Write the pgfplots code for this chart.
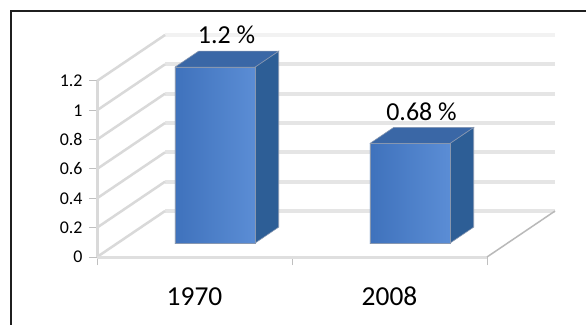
\documentclass[border=0pt]{standalone}
\usepackage{pgfplots}
\pgfplotsset{compat=1.18}
\usepackage{fontspec}
\setmainfont{Carlito}
\definecolor{barfrontL}{HTML}{5B8DD5}
\definecolor{barfrontD}{HTML}{3F72BC}
\definecolor{barside}{HTML}{2D5E96}
\definecolor{bartop}{HTML}{3A67A6}
\definecolor{baredge}{HTML}{8797B0}
\begin{document}
\begin{tikzpicture}[x=1bp,y=1bp]
\useasboundingbox (0,0) rectangle (586,324);
\fill[white] (0,0) rectangle (586,324);
\draw[line width=2.2bp, color=black!88] (11,-3) -- (11,313) -- (590,313);
\begin{axis}[
  at={(97bp,67bp)}, anchor=south west,
  x=195bp, y=146.7bp,
  xmin=-0.5, xmax=1.87, ymin=0, ymax=1.56,
  clip=false,
  axis line style={draw=none},
  tick pos=left,
  tick align=outside,
  major tick length=8bp,
  tick style={gray!50, line width=1bp},
  ytick={0,0.2,0.4,0.6,0.8,1,1.2},
  yticklabel style={font=\fontsize{18}{20}\selectfont, xshift=-3bp},
  xtick={-0.5,0.5,1.5},
  xticklabels={},
  extra x ticks={0,1},
  extra x tick labels={1970,2008},
  extra x tick style={major tick length=0pt, xticklabel style={anchor=base, yshift=-48bp, font=\fontsize{27.5}{30}\selectfont}},
  /pgf/number format/assume math mode=true,
]
% back wall gridlines
\addplot[gray!10, line width=4bp] coordinates {(-0.151,1.5136) (1.849,1.5136)};
\addplot[gray!20, line width=4bp] coordinates {(-0.151,1.3136) (1.849,1.3136)};
\addplot[gray!20, line width=4bp] coordinates {(-0.151,1.1136) (1.849,1.1136)};
\addplot[gray!20, line width=4bp] coordinates {(-0.151,0.9136) (1.849,0.9136)};
\addplot[gray!20, line width=4bp] coordinates {(-0.151,0.7136) (1.849,0.7136)};
\addplot[gray!20, line width=4bp] coordinates {(-0.151,0.5136) (1.849,0.5136)};
\addplot[gray!20, line width=4bp] coordinates {(-0.151,0.3136) (1.849,0.3136)};
% left wall slanted lines
\addplot[gray!30, line width=2.5bp] coordinates {(-0.5,1.2) (-0.151,1.5136)};
\addplot[gray!30, line width=2.5bp] coordinates {(-0.5,1.0) (-0.151,1.3136)};
\addplot[gray!30, line width=2.5bp] coordinates {(-0.5,0.8) (-0.151,1.1136)};
\addplot[gray!30, line width=2.5bp] coordinates {(-0.5,0.6) (-0.151,0.9136)};
\addplot[gray!30, line width=2.5bp] coordinates {(-0.5,0.4) (-0.151,0.7136)};
\addplot[gray!30, line width=2.5bp] coordinates {(-0.5,0.2) (-0.151,0.5136)};
\addplot[gray!30, line width=2.5bp] coordinates {(-0.5,0.0) (-0.151,0.3136)};
% front left edge and floor
\addplot[gray!30, line width=3bp] coordinates {(-0.5,0) (-0.5,1.2)};
\addplot[gray!25, line width=3bp] coordinates {(-0.5,0) (1.5,0)};
\addplot[gray!55, line width=1.5bp] coordinates {(1.5,0) (1.849,0.3136)};
% bar 1970 (1.2)
\addplot[draw=baredge, line width=0.6bp, fill=barside] coordinates {(0.3097,0.0941) (0.4319,0.2038) (0.4319,1.4038) (0.3097,1.2941) (0.3097,0.0941)};
\addplot[draw=baredge, line width=0.6bp, fill=bartop] coordinates {(-0.1003,1.2941) (0.3097,1.2941) (0.4319,1.4038) (0.0219,1.4038) (-0.1003,1.2941)};
\addplot[draw=baredge, line width=0.6bp, left color=barfrontD, right color=barfrontL] coordinates {(-0.1003,0.0941) (0.3097,0.0941) (0.3097,1.2941) (-0.1003,1.2941) (-0.1003,0.0941)};
% bar 2008 (0.68)
\addplot[draw=baredge, line width=0.6bp, fill=barside] coordinates {(1.3097,0.0941) (1.4319,0.2038) (1.4319,0.8838) (1.3097,0.7741) (1.3097,0.0941)};
\addplot[draw=baredge, line width=0.6bp, fill=bartop] coordinates {(0.8997,0.7741) (1.3097,0.7741) (1.4319,0.8838) (1.0219,0.8838) (0.8997,0.7741)};
\addplot[draw=baredge, line width=0.6bp, left color=barfrontD, right color=barfrontL] coordinates {(0.8997,0.0941) (1.3097,0.0941) (1.3097,0.7741) (0.8997,0.7741) (0.8997,0.0941)};
% data labels
\addplot[draw=none, mark=none, nodes near coords, point meta=explicit symbolic,
  every node near coord/.append style={anchor=base, xshift=32bp, yshift=37bp, font=\fontsize{26}{28}\selectfont, text=black}]
  coordinates {(0,1.2) [1.2 \%] (1,0.68) [0.68 \%]};
\end{axis}
\end{tikzpicture}
\end{document}
